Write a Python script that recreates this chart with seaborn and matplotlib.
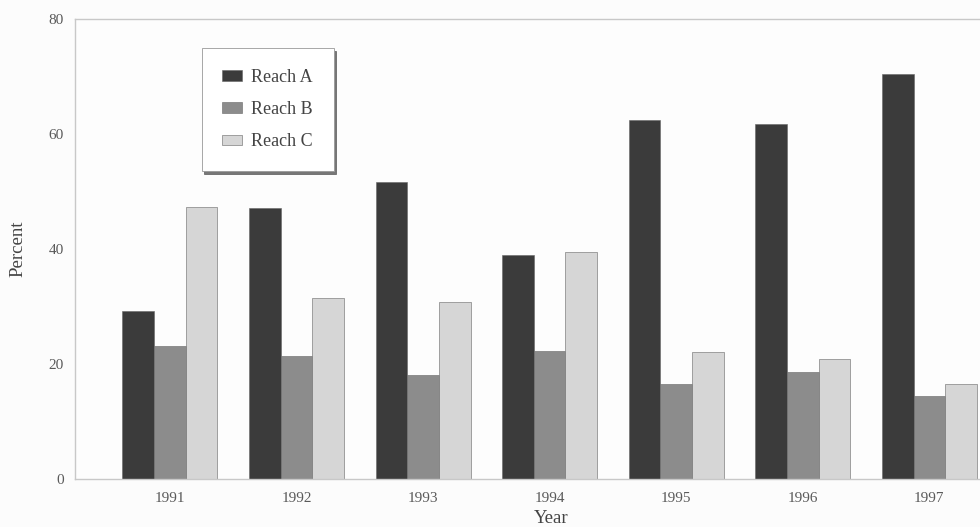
import numpy as np
import pandas as pd
import matplotlib
matplotlib.use("Agg")
import matplotlib.pyplot as plt
import seaborn as sns

years = ["1991", "1992", "1993", "1994", "1995", "1996", "1997"]
reach_a = [29.3, 47.1, 51.6, 39.0, 62.4, 61.7, 70.4]
reach_b = [23.2, 21.4, 18.1, 22.3, 16.6, 18.6, 14.5]
reach_c = [47.3, 31.5, 30.8, 39.5, 22.1, 20.9, 16.6]
reaches = ["Reach A", "Reach B", "Reach C"]
colors = ["#3b3b3b", "#8c8c8c", "#d6d6d6"]

df = pd.DataFrame({"Year": years * 3,
                   "Percent": reach_a + reach_b + reach_c,
                   "Reach": [r for r in reaches for _ in years]})

sns.set_style("white")
plt.rcParams["font.family"] = ["Liberation Serif", "DejaVu Serif"]

fig = plt.figure(figsize=(9.8, 5.27), dpi=100, facecolor="#fcfcfc")
ax = fig.add_axes([0.0765, 0.091, 0.9235, 0.873])
ax.set_facecolor("#fdfdfd")

sns.barplot(data=df, x="Year", y="Percent", hue="Reach", palette=colors,
            width=0.75, edgecolor="#666666", linewidth=0.4, ax=ax)

ax.set_xlim(-0.75, 6.4)
ax.set_ylim(0, 80)
ax.set_yticks([0, 20, 40, 60, 80])
ax.tick_params(axis="y", direction="in", length=14, width=0.8, color="#bbbbbb",
               labelsize=11, labelcolor="#5a5a5a", pad=8)
ax.tick_params(axis="x", length=0, labelsize=11, labelcolor="#5a5a5a", pad=9)

for s in ["left", "top", "bottom"]:
    ax.spines[s].set_visible(True)
    ax.spines[s].set_color("#c8c8c8")
    ax.spines[s].set_linewidth(1.0)
ax.spines["right"].set_visible(False)

ax.set_xlabel("Year", fontsize=13.5, color="#444444")
ax.xaxis.set_label_coords(0.526, -0.068)
ax.set_ylabel("Percent", fontsize=13.5, color="#444444")
ax.yaxis.set_label_coords(-0.054, 0.5)

leg = ax.legend(loc="upper left", bbox_to_anchor=(0.14, 0.937), borderaxespad=0,
                frameon=True, fancybox=False,
                shadow={"color": "#555555", "alpha": 0.8}, fontsize=13,
                handlelength=1.1, handleheight=0.55, labelspacing=0.85,
                borderpad=1.15, handletextpad=0.5)
leg.get_frame().set_edgecolor("#999999")
leg.get_frame().set_linewidth(0.6)
for t in leg.get_texts():
    t.set_color("#444444")

fig.savefig("out.png", dpi=100, facecolor=fig.get_facecolor())
